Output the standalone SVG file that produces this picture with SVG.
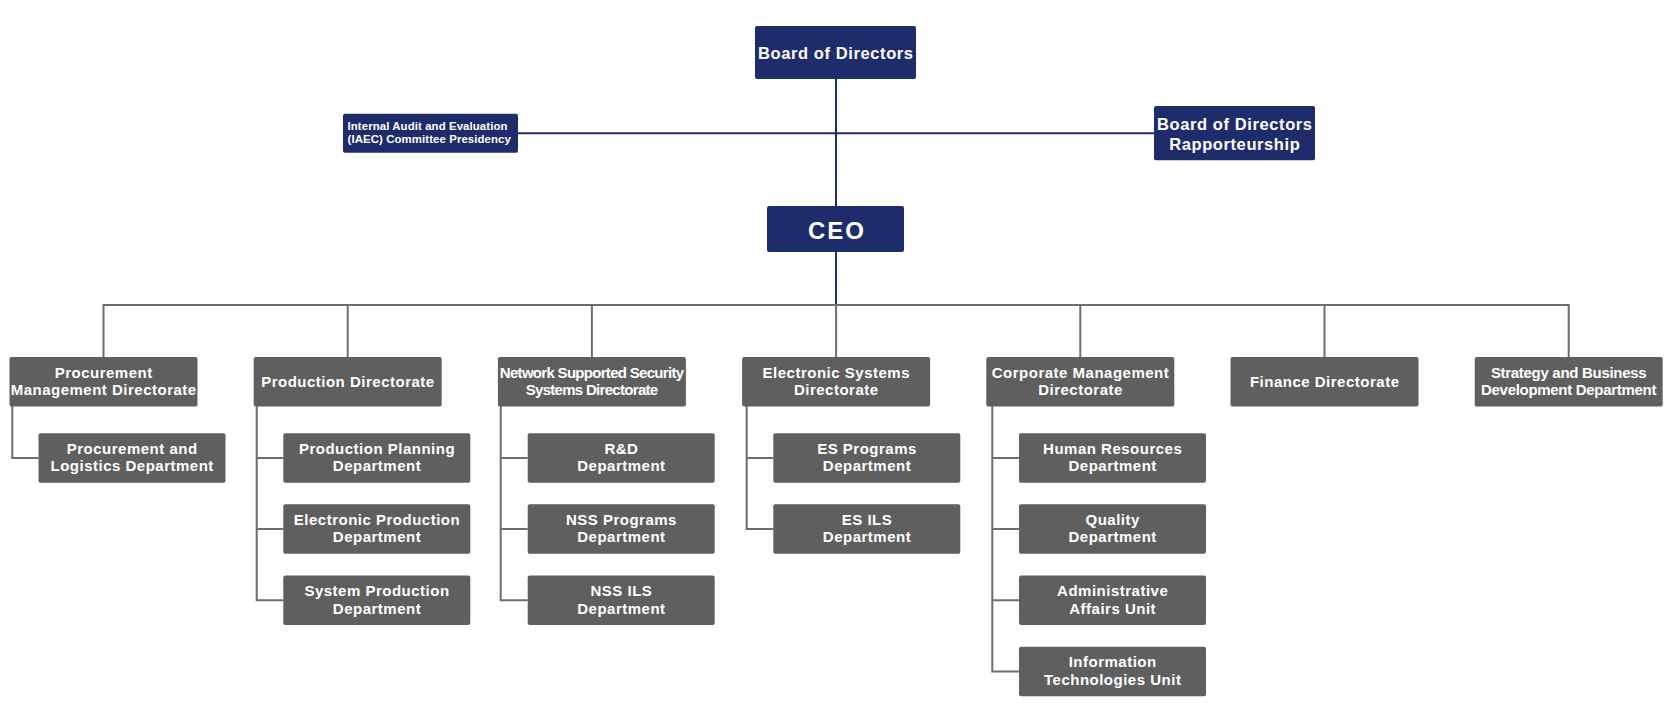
<svg xmlns="http://www.w3.org/2000/svg" width="1672" height="711" viewBox="0 0 1672 711">
<style>
.navy{fill:#1f2c6c}
.gray{fill:#5f5f5f}
.t{font-family:"Liberation Sans",Arial,sans-serif;font-weight:700;fill:#ffffff;text-anchor:middle;font-size:15px;letter-spacing:0.5px}
.big{font-size:16.5px;letter-spacing:0.6px}
.ceo{font-size:24px;letter-spacing:2px}
.small{font-size:11.4px;letter-spacing:0.1px;text-anchor:start}
.c1{letter-spacing:-0.7px}
.c2{letter-spacing:-0.3px}
.ln{fill:none;stroke:#6d6d6d;stroke-width:2}
.nl{fill:none;stroke:#1f2c6c;stroke-width:2}
</style>
<rect width="1672" height="711" fill="#ffffff"/>
<g id="connectors">
<path class="nl" d="M836 79V206M836 252V305M517 133.3H1154"/>
<path class="ln" d="M103.5 305H1568.7M103.5 304V357M347.7 304V357M591.9 304V357M836.1 305V357M1080.3 304V357M1324.5 304V357M1568.7 304V357"/>
<path class="ln" d="M12.3 406V458H38.5"/>
<path class="ln" d="M256.7 406V600.3H283.3M256.7 458H283.3M256.7 529H283.3"/>
<path class="ln" d="M500.7 406V600.3H527.7M500.7 458H527.7M500.7 529H527.7"/>
<path class="ln" d="M746.7 406V529H773.3M746.7 458H773.3"/>
<path class="ln" d="M992.3 406V671.5H1019M992.3 458H1019M992.3 529H1019M992.3 600.3H1019"/>
</g>
<g id="board"><rect class="navy" x="755" y="26" width="161" height="53" rx="2"/><text class="t big" x="835.8" y="58.5">Board of Directors</text></g>
<g id="iaec"><rect class="navy" x="343" y="113.7" width="175" height="39" rx="2"/><text class="t small" x="347.5" y="130.4">Internal Audit and Evaluation</text><text class="t small" x="347.5" y="143.4">(IAEC) Committee Presidency</text></g>
<g id="rapporteur"><rect class="navy" x="1154" y="106" width="161" height="54.3" rx="2"/><text class="t big" x="1234.8" y="130.2">Board of Directors</text><text class="t big" x="1234.8" y="149.6">Rapporteurship</text></g>
<g id="ceo"><rect class="navy" x="767" y="206" width="137" height="46" rx="2"/><text class="t ceo" x="837" y="238.6">CEO</text></g>

<g id="procurement"><rect class="gray" x="9.5" y="357" width="188" height="49.5" rx="2"/><text class="t" x="103.7" y="377.7">Procurement</text><text class="t" x="103.7" y="395.4">Management Directorate</text></g>
<g id="production"><rect class="gray" x="253.7" y="357" width="188" height="49.5" rx="2"/><text class="t" x="347.9" y="387.4">Production Directorate</text></g>
<g id="nss"><rect class="gray" x="497.9" y="357" width="188" height="49.5" rx="2"/><text class="t c1" x="591.6" y="377.7">Network Supported Security</text><text class="t c1" x="591.6" y="395.4">Systems Directorate</text></g>
<g id="es"><rect class="gray" x="742.1" y="357" width="188" height="49.5" rx="2"/><text class="t" x="836.3" y="377.7">Electronic Systems</text><text class="t" x="836.3" y="395.4">Directorate</text></g>
<g id="corporate"><rect class="gray" x="986.3" y="357" width="188" height="49.5" rx="2"/><text class="t" x="1080.5" y="377.7">Corporate Management</text><text class="t" x="1080.5" y="395.4">Directorate</text></g>
<g id="finance"><rect class="gray" x="1230.5" y="357" width="188" height="49.5" rx="2"/><text class="t" x="1324.7" y="387.4">Finance Directorate</text></g>
<g id="strategy"><rect class="gray" x="1474.7" y="357" width="188" height="49.5" rx="2"/><text class="t c2" x="1568.6" y="377.7">Strategy and Business</text><text class="t c2" x="1568.6" y="395.4">Development Department</text></g>

<g id="proc-log"><rect class="gray" x="38.5" y="433.3" width="187" height="49.5" rx="2"/><text class="t" x="132.2" y="453.7">Procurement and</text><text class="t" x="132.2" y="471.4">Logistics Department</text></g>

<g id="prod-plan"><rect class="gray" x="283.3" y="433.3" width="187" height="49.5" rx="2"/><text class="t" x="377" y="453.7">Production Planning</text><text class="t" x="377" y="471.4">Department</text></g>
<g id="prod-elec"><rect class="gray" x="283.3" y="504.3" width="187" height="49.5" rx="2"/><text class="t" x="377" y="524.7">Electronic Production</text><text class="t" x="377" y="542.4">Department</text></g>
<g id="prod-sys"><rect class="gray" x="283.3" y="575.5" width="187" height="49.5" rx="2"/><text class="t" x="377" y="596">System Production</text><text class="t" x="377" y="613.7">Department</text></g>

<g id="nss-rd"><rect class="gray" x="527.7" y="433.3" width="187" height="49.5" rx="2"/><text class="t" x="621.4" y="453.7">R&amp;D</text><text class="t" x="621.4" y="471.4">Department</text></g>
<g id="nss-prog"><rect class="gray" x="527.7" y="504.3" width="187" height="49.5" rx="2"/><text class="t" x="621.4" y="524.7">NSS Programs</text><text class="t" x="621.4" y="542.4">Department</text></g>
<g id="nss-ils"><rect class="gray" x="527.7" y="575.5" width="187" height="49.5" rx="2"/><text class="t" x="621.4" y="596">NSS ILS</text><text class="t" x="621.4" y="613.7">Department</text></g>

<g id="es-prog"><rect class="gray" x="773.3" y="433.3" width="187" height="49.5" rx="2"/><text class="t" x="867" y="453.7">ES Programs</text><text class="t" x="867" y="471.4">Department</text></g>
<g id="es-ils"><rect class="gray" x="773.3" y="504.3" width="187" height="49.5" rx="2"/><text class="t" x="867" y="524.7">ES ILS</text><text class="t" x="867" y="542.4">Department</text></g>

<g id="corp-hr"><rect class="gray" x="1019" y="433.3" width="187" height="49.5" rx="2"/><text class="t" x="1112.7" y="453.7">Human Resources</text><text class="t" x="1112.7" y="471.4">Department</text></g>
<g id="corp-quality"><rect class="gray" x="1019" y="504.3" width="187" height="49.5" rx="2"/><text class="t" x="1112.7" y="524.7">Quality</text><text class="t" x="1112.7" y="542.4">Department</text></g>
<g id="corp-admin"><rect class="gray" x="1019" y="575.5" width="187" height="49.5" rx="2"/><text class="t" x="1112.7" y="596">Administrative</text><text class="t" x="1112.7" y="613.7">Affairs Unit</text></g>
<g id="corp-it"><rect class="gray" x="1019" y="646.7" width="187" height="49.5" rx="2"/><text class="t" x="1112.7" y="667.2">Information</text><text class="t" x="1112.7" y="684.9">Technologies Unit</text></g>
</svg>
